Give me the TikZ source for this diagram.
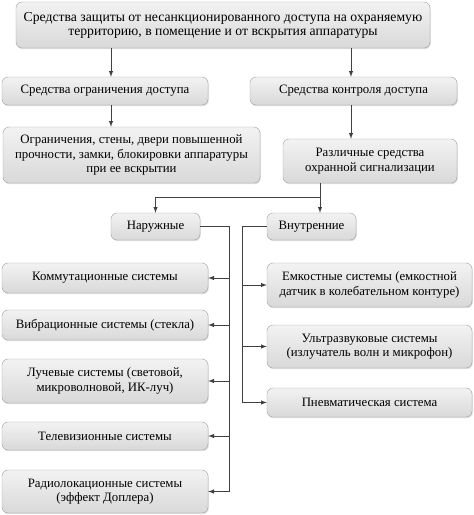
\documentclass[tikz,border=0pt]{standalone}
\usepackage{fontspec}
\setmainfont{DejaVu Serif}
\newfontfamily\rusfont{Liberation Serif}
\usetikzlibrary{positioning,shadows}

\begin{document}
\begin{tikzpicture}[x=1pt,y=-1pt,
        box/.style={draw=gray!75,rounded corners=6pt,top color=gray!10,bottom color=gray!30,
            drop shadow={opacity=0.25,shadow xshift=0.8pt,shadow yshift=-1.2pt},
            inner sep=0pt,align=center,font=\rusfont\fontsize{12.8}{14.5}\selectfont},
        ln/.style={draw=black!75,line width=1pt},
        arr/.style={ln,-latex}]
            \useasboundingbox (0,0) rectangle (474,515);
            % niveau haut
            \node[box,minimum width=414,minimum height=46,font=\rusfont\fontsize{13.7}{14}\selectfont] (top) at (223,25)
                {Средства защиты от несанкционированного доступа на охраняемую\\территорию, в помещение и от вскрытия аппаратуры};
            \node[box,minimum width=206,minimum height=28] (ogr) at (105,91) {Средства ограничения доступа};
            \node[box,minimum width=207,minimum height=28] (kontr) at (353.5,91) {Средства контроля доступа};
            \node[box,minimum width=257,minimum height=56] (ogrdet) at (131.5,155)
                {Ограничения, стены, двери повышенной\\прочности, замки, блокировки аппаратуры\\при ее вскрытии};
            \node[box,minimum width=174,minimum height=44] (razl) at (370,161) {Различные средства\\охранной сигнализации};
            \node[box,minimum width=89,minimum height=27] (nar) at (155.5,226.5) {Наружные};
            \node[box,minimum width=89,minimum height=27] (vnut) at (311.5,226.5) {Внутренние};
            % systemes exterieurs
            \node[box,minimum width=206,minimum height=30] (komm) at (105,278) {Коммутационные системы};
            \node[box,minimum width=206,minimum height=30] (vibr) at (105,325) {Вибрационные системы (стекла)};
            \node[box,minimum width=206,minimum height=44] (luch) at (105,381) {Лучевые системы (световой,\\микроволновой, ИК-луч)};
            \node[box,minimum width=206,minimum height=28] (tele) at (105,436) {Телевизионные системы};
            \node[box,minimum width=206,minimum height=43] (radio) at (105,491.5) {Радиолокационные системы\\(эффект Доплера)};
            % systemes interieurs
            \node[box,minimum width=205,minimum height=44] (emk) at (369.5,285) {Емкостные системы (емкостной\\датчик в колебательном контуре)};
            \node[box,minimum width=205,minimum height=43] (ultra) at (369.5,346.5) {Ультразвуковые системы\\(излучатель волн и микрофон)};
            \node[box,minimum width=205,minimum height=29] (pnev) at (369.5,402.5) {Пневматическая система};
            % liaisons
            \coordinate (g) at (111,0);
            \coordinate (d) at (351,0);
            \coordinate (br) at (320,197);
            \coordinate (sg) at (229,0);
            \coordinate (sd) at (242,0);
            \draw[arr] (top.south -| g) -- (ogr.north -| g);
            \draw[arr] (top.south -| d) -- (kontr.north -| d);
            \draw[arr] (ogr.south -| g) -- (ogrdet.north -| g);
            \draw[arr] (kontr.south -| d) -- (razl.north -| d);
            \draw[arr] (razl.south -| br) -- (br) -| (nar.north);
            \draw[arr] (br) -- (vnut.north -| br);
            \draw[ln] (nar.east) -| (radio.east -| sg);
            \draw[ln] (vnut.west) -| (pnev.west -| sd);
            \foreach \n in {komm,vibr,luch,tele,radio}
                \draw[arr] (\n.east -| sg) -- (\n.east);
            \foreach \n in {emk,ultra,pnev}
                \draw[arr] (\n.west -| sd) -- (\n.west);
        \end{tikzpicture}
\end{document}
